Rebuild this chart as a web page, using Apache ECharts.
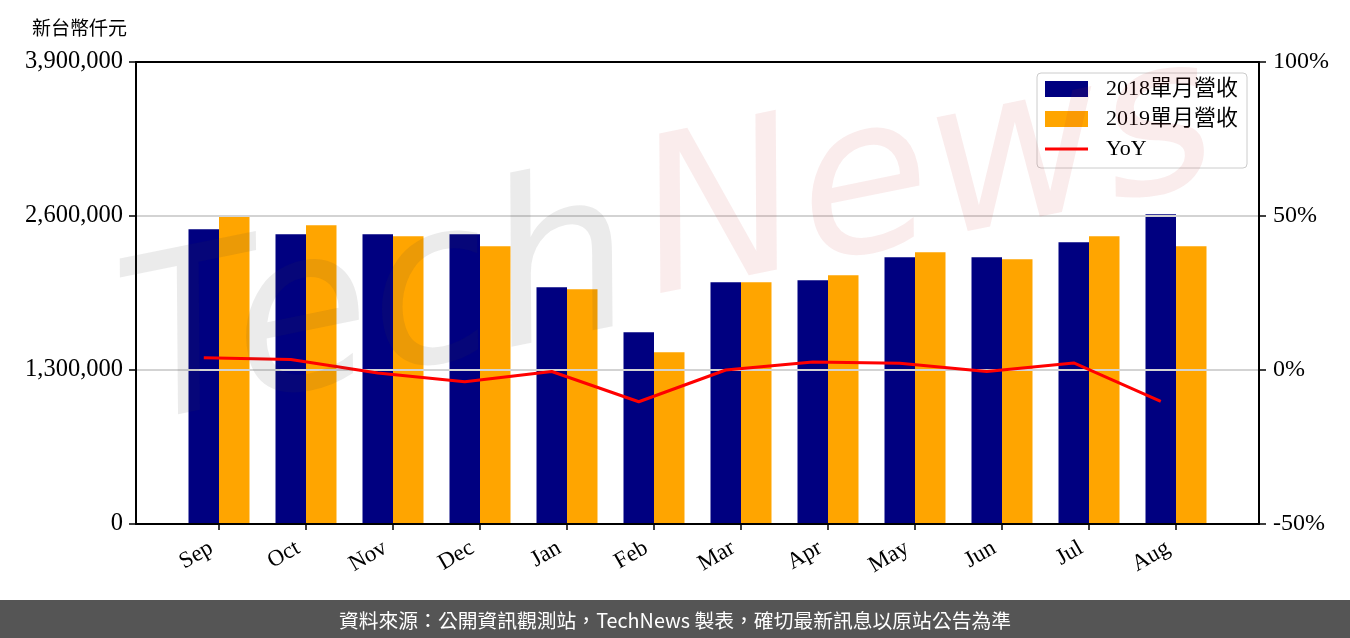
<!DOCTYPE html>
<html>
<head>
<meta charset="utf-8">
<script src="https://cdn.jsdelivr.net/npm/echarts@6/dist/echarts.min.js"></script>
<style>
html,body{margin:0;padding:0;background:#fff;}
#chart{width:1350px;height:638px;}
</style>
</head>
<body>
<div id="chart"></div>
<script>
const categories = ['Sep','Oct','Nov','Dec','Jan','Feb','Mar','Apr','May','Jun','Jul','Aug'];
const rev2018 = [2488000, 2446000, 2446000, 2446000, 1999000, 1619000, 2041000, 2058000, 2252000, 2252000, 2378000, 2614000];
const rev2019 = [2591000, 2521000, 2429000, 2344000, 1982000, 1450000, 2041000, 2100000, 2294000, 2235000, 2429000, 2344000];
const yoy = [4.0, 3.4, -1.0, -3.8, -0.5, -10.3, 0.0, 2.6, 2.2, -0.5, 2.3, -10.2];
const leftMin = 0, leftMax = 3900000, leftStep = 1300000;
const rightMin = -50, rightMax = 100, rightStep = 50;
const seriesNames = ['2018單月營收', '2019單月營收', 'YoY'];
const unitLabel = '新台幣仟元';
const footerText = '資料來源：公開資訊觀測站，TechNews 製表，確切最新訊息以原站公告為準';

const serif = "'Liberation Serif', 'Noto Sans CJK TC', serif";
const fmt = v => String(Math.round(v)).replace(/\B(?=(\d{3})+(?!\d))/g, ',');
const lineOffset = -0.175;
const frameLine = { show: true, onZero: false, lineStyle: { color: '#000', width: 2 } };

const chart = echarts.init(document.getElementById('chart'));
chart.setOption({
  animation: false,
  backgroundColor: '#fff',
  textStyle: { fontFamily: serif },
  grid: [
    { left: 136, right: 91, top: 62, bottom: 114 },
    { left: 175.5, right: 130.5, top: 62, bottom: 114 }
  ],
  legend: {
    orient: 'vertical',
    left: 1037, top: 73,
    padding: [5, 9, 8, 8],
    itemWidth: 43, itemHeight: 16, itemGap: 8,
    backgroundColor: 'rgba(255,255,255,0.8)',
    borderColor: '#cccccc', borderWidth: 1, borderRadius: 4,
    textStyle: { fontFamily: serif, fontSize: 22, color: '#000', lineHeight: 22, padding: [0, 0, 0, 13] },
    data: [
      { name: seriesNames[0], icon: 'rect' },
      { name: seriesNames[1], icon: 'rect' },
      { name: seriesNames[2], icon: 'path://M0,0L43,0L43,3L0,3Z' }
    ]
  },
  xAxis: [
    { gridIndex: 0, type: 'value', position: 'bottom', min: 0, max: 1, z: 6,
      axisLine: frameLine, axisTick: { show: false }, axisLabel: { show: false }, splitLine: { show: false } },
    {
      gridIndex: 1, type: 'category', data: categories, boundaryGap: true,
      axisLine: { show: false, onZero: false },
      axisTick: { show: true, alignWithLabel: true, length: 6, lineStyle: { color: '#000', width: 1.5 } },
      axisLabel: { rotate: 30, fontSize: 23, fontFamily: serif, color: '#000', margin: 18, padding: [0, 9, 0, 0] },
      splitLine: { show: false }
    },
    { gridIndex: 1, type: 'value', min: -0.5, max: 11.5, show: false },
    { gridIndex: 0, type: 'value', position: 'top', min: 0, max: 1, z: 6,
      axisLine: frameLine, axisTick: { show: false }, axisLabel: { show: false }, splitLine: { show: false } }
  ],
  yAxis: [
    {
      gridIndex: 0, type: 'value', position: 'left', min: leftMin, max: leftMax, interval: leftStep, z: 3,
      axisLine: frameLine,
      axisTick: { show: true, length: 7, lineStyle: { color: '#000', width: 1.5 } },
      axisLabel: { fontSize: 24.5, fontFamily: serif, color: '#000', margin: 13, formatter: v => fmt(v) },
      splitLine: { show: true, showMinLine: false, showMaxLine: false, lineStyle: { color: '#d3d3d3', width: 2 } }
    },
    {
      gridIndex: 0, type: 'value', position: 'right', min: rightMin, max: rightMax, interval: rightStep, z: 3,
      axisLine: frameLine,
      axisTick: { show: true, length: 7, lineStyle: { color: '#000', width: 1.5 } },
      axisLabel: { fontSize: 24, fontFamily: serif, color: '#000', margin: 14, formatter: v => v + '%' },
      splitLine: { show: false }
    },
    { gridIndex: 1, type: 'value', min: leftMin, max: leftMax, show: false },
    { gridIndex: 1, type: 'value', min: rightMin, max: rightMax, show: false }
  ],
  graphic: [
    {
      type: 'text', x: 150, y: 475, rotation: 0.2, z: 50, silent: true,
      style: { text: 'Tech', fill: 'rgba(60,60,60,0.1)', font: "italic 225px 'DejaVu Sans'", textVerticalAlign: 'bottom' }
    },
    {
      type: 'text', x: 665, y: 345, rotation: 0.2, z: 50, silent: true,
      style: { text: 'News', fill: 'rgba(200,40,40,0.09)', font: "italic 215px 'DejaVu Sans'", textVerticalAlign: 'bottom' }
    },
    {
      type: 'text', x: 32, y: 28, z: 60,
      style: { text: unitLabel, fill: '#000', font: "19px 'Noto Sans CJK TC'", textVerticalAlign: 'middle' }
    },
    {
      type: 'rect', shape: { x: 0, y: 600, width: 1350, height: 38 }, z: 60,
      style: { fill: '#555555' }
    },
    {
      type: 'text', x: 675, y: 620, z: 61,
      style: { text: footerText, fill: '#fff', font: "19.8px 'Noto Sans CJK TC'", textAlign: 'center', textVerticalAlign: 'middle' }
    }
  ],
  series: [
    { name: seriesNames[0], type: 'bar', xAxisIndex: 1, yAxisIndex: 2, data: rev2018, barWidth: 30.5, barGap: '0%', itemStyle: { color: '#000080' }, z: 2 },
    { name: seriesNames[1], type: 'bar', xAxisIndex: 1, yAxisIndex: 2, data: rev2019, barWidth: 30.5, barGap: '0%', itemStyle: { color: '#FFA500' }, z: 2 },
    {
      name: seriesNames[2], type: 'line', xAxisIndex: 2, yAxisIndex: 3,
      data: yoy.map((v, i) => [i + lineOffset, v]),
      symbol: 'none', lineStyle: { color: '#ff0000', width: 3 }, itemStyle: { color: '#ff0000' }, z: 10
    }
  ]
});
</script>
</body>
</html>
